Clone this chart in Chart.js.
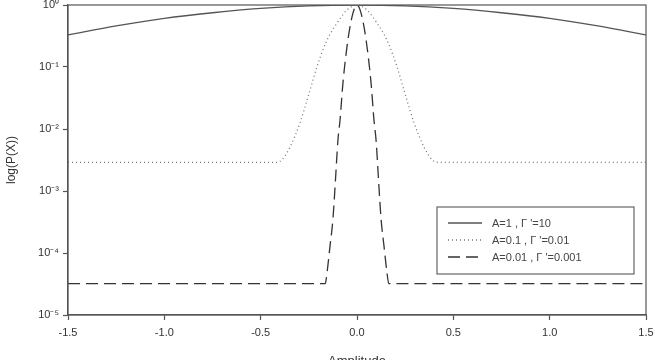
<!DOCTYPE html>
<html>
<head>
<meta charset="utf-8">
<script src="https://cdn.jsdelivr.net/npm/chart.js@4/dist/chart.umd.min.js"></script>
<style>
  html, body { margin: 0; padding: 0; overflow: hidden; background: #fff; }
  #wrap { width: 655px; height: 360px; overflow: hidden; }
  canvas { display: block; }
</style>
</head>
<body>
<div id="wrap"><canvas id="c" width="655" height="369"></canvas></div>
<script>
// ---- data ----
const xTickValues = [-1.5, -1.0, -0.5, 0.0, 0.5, 1.0, 1.5];
const xTickLabels = ["-1.5", "-1.0", "-0.5", "0.0", "0.5", "1.0", "1.5"];
const yTickValues = [1e-5, 1e-4, 1e-3, 1e-2, 1e-1, 1];
const yTickLabels = ["10\u207B\u2075", "10\u207B\u2074", "10\u207B\u00B3", "10\u207B\u00B2", "10\u207B\u00B9", "10\u2070"];

const seriesLabels = ["A=1 , \u0393 '=10", "A=0.1 , \u0393 '=0.01", "A=0.01 , \u0393 '=0.001"];

// A=1, Γ'=10 (solid)
const solidX = [-1.5, -1.25, -1.0, -0.75, -0.5, -0.25, 0, 0.25, 0.5, 0.75, 1.0, 1.25, 1.5];
const solidY = [0.33, 0.46, 0.61, 0.75, 0.88, 0.97, 1.0, 0.97, 0.88, 0.75, 0.61, 0.46, 0.33];

// A=0.1, Γ'=0.01 (dotted)
const dotX = [-1.5, -1.0, -0.6, -0.42, -0.389, -0.348, -0.296, -0.254, -0.208, -0.156, -0.104, -0.052, 0,
              0.052, 0.104, 0.156, 0.208, 0.254, 0.296, 0.348, 0.389, 0.42, 0.6, 1.0, 1.5];
const dotY = [0.0029, 0.0029, 0.0029, 0.0029, 0.0032, 0.0051, 0.0126, 0.033, 0.10, 0.27, 0.51, 0.83, 1.0,
              0.83, 0.51, 0.27, 0.10, 0.033, 0.0126, 0.0051, 0.0032, 0.0029, 0.0029, 0.0029, 0.0029];

// A=0.01, Γ'=0.001 (dashed)
const dashX = [-1.5, -1.0, -0.5, -0.165, -0.155, -0.14, -0.125, -0.113, -0.099, -0.088, -0.073, -0.047, -0.021, 0,
               0.021, 0.047, 0.073, 0.088, 0.099, 0.113, 0.125, 0.14, 0.155, 0.165, 0.5, 1.0, 1.5];
const dashY = [3.2e-5, 3.2e-5, 3.2e-5, 3.2e-5, 5e-5, 1.3e-4, 3.5e-4, 1.3e-3, 6.6e-3, 0.014, 0.055, 0.275, 0.74, 1.0,
               0.74, 0.275, 0.055, 0.014, 6.6e-3, 1.3e-3, 3.5e-4, 1.3e-4, 5e-5, 3.2e-5, 3.2e-5, 3.2e-5, 3.2e-5];

const pts = (xs, ys) => xs.map((x, i) => ({ x: x, y: ys[i] }));

const FONT = "'Liberation Sans', Arial, sans-serif";
const AXIS = '#555';

const framePlugin = {
  id: 'frame',
  afterDatasetsDraw(chart) {
    const { ctx, chartArea: a } = chart;
    ctx.save();
    ctx.strokeStyle = AXIS;
    ctx.lineWidth = 1.2;
    ctx.strokeRect(a.left, a.top, a.right - a.left, a.bottom - a.top);
    ctx.restore();
  }
};

const legendPlugin = {
  id: 'boxLegend',
  afterDraw(chart) {
    const { ctx } = chart;
    const bx = 437, by = 207, bw = 197, bh = 67;
    ctx.save();
    ctx.fillStyle = '#fff';
    ctx.fillRect(bx, by, bw, bh);
    ctx.strokeStyle = '#666';
    ctx.lineWidth = 1.2;
    ctx.strokeRect(bx, by, bw, bh);
    ctx.font = "11px " + FONT;
    ctx.textBaseline = 'middle';
    chart.data.datasets.forEach((ds, i) => {
      const y = 223 + i * 17;
      ctx.beginPath();
      ctx.strokeStyle = ds.borderColor;
      ctx.lineWidth = ds.borderWidth;
      ctx.setLineDash(ds.borderDash || []);
      ctx.moveTo(448, y);
      ctx.lineTo(482, y);
      ctx.stroke();
      ctx.setLineDash([]);
      ctx.fillStyle = '#444';
      ctx.fillText(ds.label, 492, y + 0.5);
    });
    ctx.restore();
  }
};

new Chart(document.getElementById('c'), {
  type: 'line',
  data: {
    datasets: [
      { label: seriesLabels[0], data: pts(solidX, solidY), borderColor: '#555', borderWidth: 1.3,
        pointRadius: 0, cubicInterpolationMode: 'monotone', fill: false },
      { label: seriesLabels[1], data: pts(dotX, dotY), borderColor: '#777', borderWidth: 1.3,
        borderDash: [1, 3], pointRadius: 0, cubicInterpolationMode: 'monotone', fill: false },
      { label: seriesLabels[2], data: pts(dashX, dashY), borderColor: '#333', borderWidth: 1.3,
        borderDash: [12, 6], pointRadius: 0, cubicInterpolationMode: 'monotone', fill: false }
    ]
  },
  options: {
    responsive: false,
    animation: false,
    layout: { padding: { top: 5, right: 9, left: 0, bottom: 0 } },
    plugins: { legend: { display: false }, tooltip: { enabled: false } },
    scales: {
      x: {
        type: 'linear', min: -1.5, max: 1.5,
        afterBuildTicks: s => { s.ticks = xTickValues.map(v => ({ value: v })); },
        afterFit: s => { s.height = 54; s.paddingLeft = 0; s.paddingRight = 0; },
        ticks: {
          callback: (v) => { const i = xTickValues.findIndex(t => Math.abs(t - v) < 1e-9); return i >= 0 ? xTickLabels[i] : ''; },
          color: '#333', font: { family: FONT, size: 11 }, padding: 6, maxRotation: 0, autoSkip: false
        },
        grid: { drawOnChartArea: false, tickLength: 5, color: AXIS, tickWidth: 1.2 },
        border: { color: AXIS, width: 1.2 },
        title: { display: true, text: 'Amplitude', color: '#333', font: { family: FONT, size: 13 }, padding: { top: 0, bottom: 0 } }
      },
      y: {
        type: 'logarithmic', min: 1e-5, max: 1,
        afterBuildTicks: s => { s.ticks = yTickValues.map(v => ({ value: v })); },
        afterFit: s => { s.width = 68; s.paddingTop = 0; s.paddingBottom = 0; },
        ticks: {
          callback: (v) => { const i = yTickValues.findIndex(t => Math.abs(Math.log10(t) - Math.log10(v)) < 1e-6); return i >= 0 ? yTickLabels[i] : ''; },
          color: '#333', font: { family: FONT, size: 11 }, padding: 4, autoSkip: false
        },
        grid: { drawOnChartArea: false, tickLength: 5, color: AXIS, tickWidth: 1.2 },
        border: { color: AXIS, width: 1.2 },
        title: { display: true, text: 'log(P(X))', color: '#333', font: { family: FONT, size: 12 }, padding: { top: 4, bottom: 0 } }
      }
    }
  },
  plugins: [framePlugin, legendPlugin]
});
</script>
</body>
</html>
